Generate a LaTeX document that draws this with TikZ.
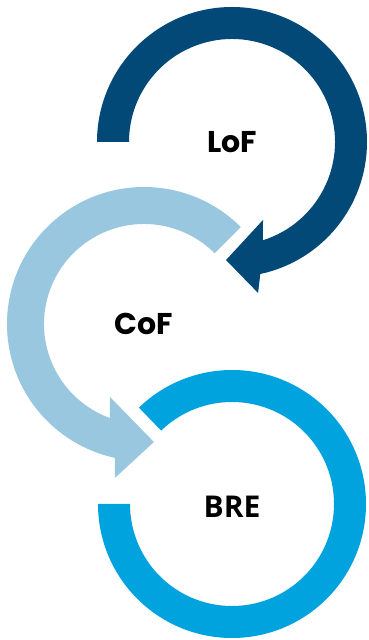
\documentclass[tikz,border=0pt]{standalone}
\usepackage{fontspec}
\newfontfamily\poppins{Poppins}
\newfontfamily\opensans{Open Sans}
\usetikzlibrary{positioning}
\definecolor{dblue}{RGB}{2,73,120}
\definecolor{lblue}{RGB}{153,199,224}
\definecolor{cblue}{RGB}{0,163,222}
\tikzset{
    ring/.style={
        fill=#1, draw=none
    },
    ringtext/.style={
        text=black, inner sep=0pt,
        font=\poppins\bfseries\fontsize{30}{36}\selectfont
    },
    ringtext2/.style={
        ringtext,
        font=\opensans\bfseries\fontsize{30}{36}\selectfont
    }
}
\begin{document}
\begin{tikzpicture}
    \useasboundingbox (0,0) rectangle (368pt,640pt);
    \coordinate (lof) at (232pt,498pt);
    \coordinate (cof) at (144pt,316pt);
    \coordinate (bre) at (232pt,136pt);
    \fill[ring=cblue] ([shift={(180:134pt)}]bre) arc[start angle=180, end angle=494, radius=134pt]
        -- ([shift={(134:102pt)}]bre) arc[start angle=494, end angle=180, radius=102pt] -- cycle;
    \fill[ring=lblue] ([shift={(45:137pt)}]cof) arc[start angle=45, end angle=257.7, radius=137pt]
        -- ([shift={(259.3:156.7pt)}]cof) -- ([shift={(274.8:118.4pt)}]cof)
        -- ([shift={(245:80.5pt)}]cof) -- ([shift={(250.1:100pt)}]cof)
        arc[start angle=250.1, end angle=45, radius=100pt] -- cycle;
    \fill[ring=dblue] ([shift={(180:135pt)}]lof) arc[start angle=180, end angle=-77.9, radius=135pt]
        -- ([shift={(-80.2:153.2pt)}]lof) -- ([shift={(-92.9:118.2pt)}]lof)
        -- ([shift={(-68.3:83.9pt)}]lof) -- ([shift={(-72.6:103pt)}]lof)
        arc[start angle=-72.6, end angle=180, radius=103pt] -- cycle;
    \node[ringtext] (lof-text) at (lof) {LoF};
    \node[ringtext] (cof-text) at (cof) {CoF};
    \node[ringtext2] (bre-text) at ([yshift=-3pt]bre) {BRE};
\end{tikzpicture}
\end{document}
